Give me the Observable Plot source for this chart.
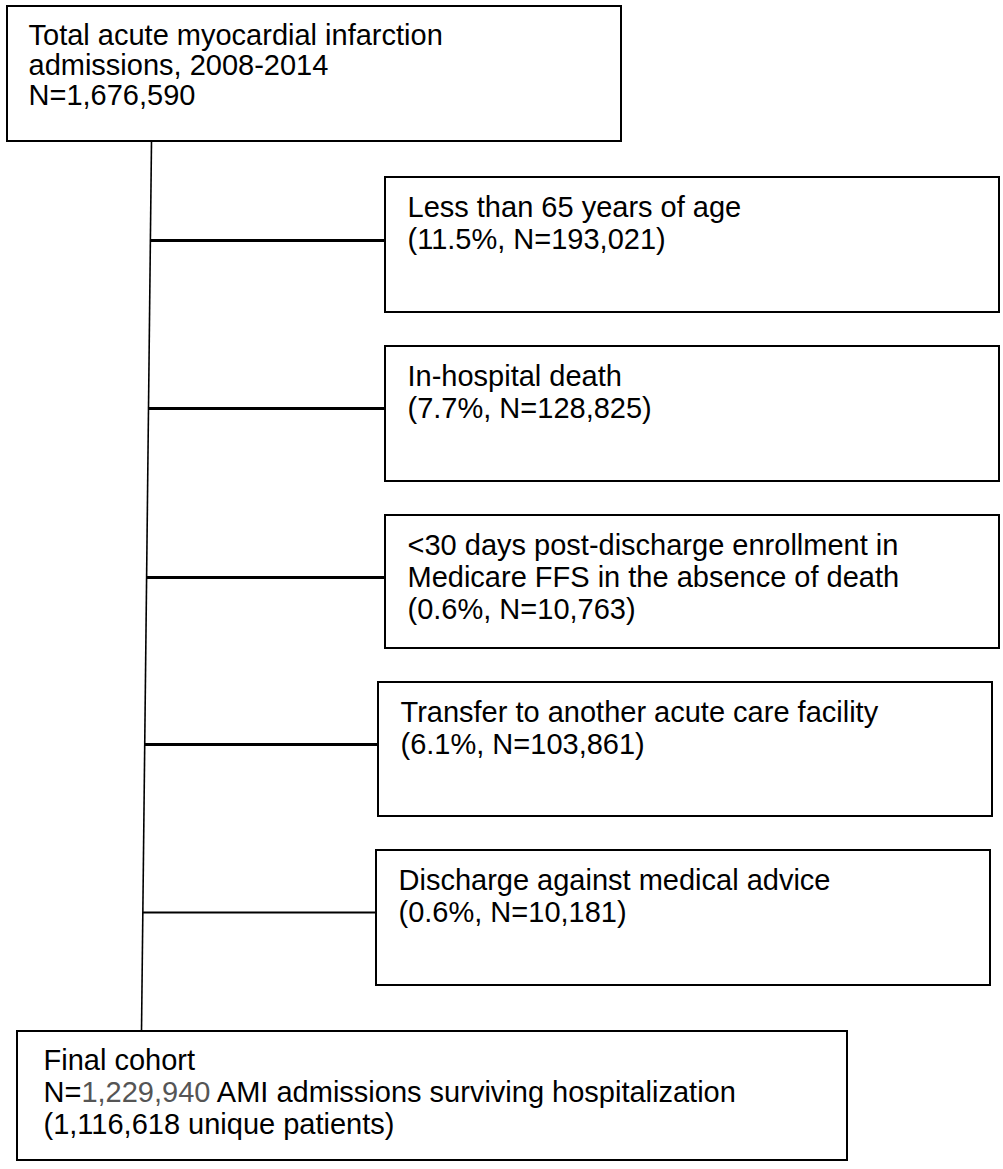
<!DOCTYPE html>
<html><head><meta charset="utf-8">
<script src="https://cdn.jsdelivr.net/npm/d3@7"></script>
<script src="https://cdn.jsdelivr.net/npm/@observablehq/plot@0.6"></script>
<style>
html,body{margin:0;padding:0;background:#fff}
#chart svg{display:block}
</style>
</head><body><div id="chart"></div>
<script>
// ---- content ----
const totalLabel = ["Total acute myocardial infarction", "admissions, 2008-2014"];
const totalN = 1676590;
const exclusionLabels = [
  ["Less than 65 years of age"],
  ["In-hospital death"],
  ["<30 days post-discharge enrollment in", "Medicare FFS in the absence of death"],
  ["Transfer to another acute care facility"],
  ["Discharge against medical advice"]
];
const exclusionPct = [11.5, 7.7, 0.6, 6.1, 0.6];
const exclusionN = [193021, 128825, 10763, 103861, 10181];
const finalLabel = "Final cohort";
const finalN = 1229940;
const finalSuffix = " AMI admissions surviving hospitalization";
const uniquePatients = 1116618;

// ---- layout (pixels) ----
const topBox = {x1: 7, x2: 621, y1: 6, y2: 141, tx: 28, ty: 44, lh: 30};
const exLeft = [385, 385, 385, 378, 376];
const exRight = [999, 999, 999, 992, 990];
const exTop = [177, 346, 515, 682, 850];
const exBottom = [312, 481, 648, 816, 985];
const connectorY = [240, 408, 577, 744, 912];
const connectorW = [3, 3, 3, 3, 2];
const finalBox = {x1: 17, x2: 847, y1: 1031, y2: 1160, tx: 43, ty: 1069, lh: 32};
const trunk = {x1: 151, y1: 141, x2: 141, y2: 1031};
const FONT_SIZE = 29;

const fmt = d3.format(",");
const trunkX = y => trunk.x1 + (trunk.x2 - trunk.x1) * (y - trunk.y1) / (trunk.y2 - trunk.y1);

const boxes = [
  {x1: topBox.x1, x2: topBox.x2, y1: topBox.y1, y2: topBox.y2},
  ...exLeft.map((l, i) => ({x1: l, x2: exRight[i], y1: exTop[i], y2: exBottom[i]})),
  {x1: finalBox.x1, x2: finalBox.x2, y1: finalBox.y1, y2: finalBox.y2}
];

const lines = [];
[...totalLabel, "N=" + fmt(totalN)].forEach((t, j) =>
  lines.push({x: topBox.tx, y: topBox.ty + topBox.lh * j, text: t}));
exclusionLabels.forEach((lab, i) => {
  [...lab, `(${exclusionPct[i].toFixed(1)}%, N=${fmt(exclusionN[i])})`].forEach((t, j) =>
    lines.push({x: exLeft[i] + 22, y: exTop[i] + 39 + 32 * j, text: t}));
});
[finalLabel, "N=" + fmt(finalN) + finalSuffix, `(${fmt(uniquePatients)} unique patients)`].forEach((t, j) =>
  lines.push({x: finalBox.tx, y: finalBox.ty + finalBox.lh * j, text: t}));

const connectors = connectorY.map((y, i) => ({x1: trunkX(y), x2: exLeft[i], y, w: connectorW[i]}));

const chart = Plot.plot({
  width: 1003,
  height: 1169,
  margin: 0,
  style: {background: "#fff", fontFamily: "'Liberation Sans', Arial, sans-serif"},
  x: {domain: [0, 1003], range: [0, 1003], axis: null},
  y: {domain: [0, 1169], range: [0, 1169], axis: null},
  marks: [
    Plot.link([trunk], {x1: "x1", y1: "y1", x2: "x2", y2: "y2", stroke: "black", strokeWidth: 1.6}),
    Plot.link(connectors, {x1: "x1", x2: "x2", y1: "y", y2: "y", stroke: "black", strokeWidth: "w"}),
    Plot.rect(boxes, {x1: "x1", x2: "x2", y1: "y1", y2: "y2", fill: "white", stroke: "black", strokeWidth: 2}),
    Plot.text(lines, {x: "x", y: "y", text: "text", textAnchor: "start", lineAnchor: "bottom",
      fontSize: FONT_SIZE, fill: "black", fontFamily: "'Liberation Sans', Arial, sans-serif"})
  ]
});

// colour the final-cohort count as in the original
const target = "N=" + fmt(finalN) + finalSuffix;
d3.select(chart).selectAll("text").each(function() {
  if (this.textContent === target) {
    const sel = d3.select(this);
    sel.text(null);
    sel.append("tspan").text("N=");
    sel.append("tspan").attr("fill", "#555").text(fmt(finalN));
    sel.append("tspan").attr("xml:space", "preserve").text(finalSuffix);
  }
});

document.getElementById("chart").appendChild(chart);
</script>
</body></html>
